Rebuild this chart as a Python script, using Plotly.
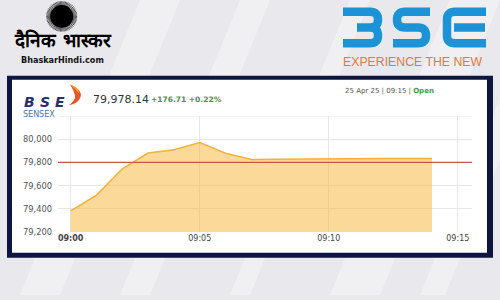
import plotly.graph_objects as go
import math

# ---------------- data ----------------
times = ['2025-04-25 09:00', '2025-04-25 09:01', '2025-04-25 09:02', '2025-04-25 09:03',
         '2025-04-25 09:04', '2025-04-25 09:05', '2025-04-25 09:06', '2025-04-25 09:07',
         '2025-04-25 09:08', '2025-04-25 09:09', '2025-04-25 09:10', '2025-04-25 09:11',
         '2025-04-25 09:12', '2025-04-25 09:13', '2025-04-25 09:14']
sensex = [79383, 79519, 79745, 79881, 79910, 79972, 79879, 79825,
          79827, 79830, 79833, 79834, 79834, 79834, 79834]
prev_close = 79801.43
y_tickvals = [79200, 79400, 79600, 79800, 80000]
y_ticktext = ['79,200', '79,400', '79,600', '79,800', '80,000']
x_tickvals = ['2025-04-25 09:00', '2025-04-25 09:05', '2025-04-25 09:10', '2025-04-25 09:15']
x_ticktext = ['<b>09:00</b>', '09:05', '09:10', '09:15']
last_value = '79,978.14'
change_text = '+176.71 +0.22%'
date_text = '25 Apr 25 | 09:15 | '
status_text = 'Open'

W, H = 500, 300
def X(px):
    return px / W
def Y(py):
    return 1 - py / H

def path(cmds):
    out = []
    for c in cmds:
        if isinstance(c, str):
            out.append(c)
        else:
            out.append('%.5f,%.5f' % (X(c[0]), Y(c[1])))
    return ' '.join(out)

fig = go.Figure()
fig.add_trace(go.Scatter(
    x=times, y=sensex, mode='lines', fill='tozeroy',
    line=dict(color='#f0b23e', width=1.5),
    fillcolor='rgba(248,180,50,0.5)', hoverinfo='skip', showlegend=False))

shapes = []
# background streaks
for (a, b) in [(20, 60), (120, 150), (230, 250), (330, 380), (420, 445)]:
    shapes.append(dict(type='path', xref='paper', yref='paper', layer='below',
                       path=path(['M', (a, 300), 'L', (b, 300), 'L', (b + 120, 0), 'L', (a + 120, 0), 'Z']),
                       fillcolor='rgba(255,255,255,0.35)', line=dict(width=0)))
# navy frame and white panel
shapes.append(dict(type='rect', xref='paper', yref='paper', layer='below',
                   x0=X(7), x1=X(493), y0=Y(262), y1=Y(77),
                   fillcolor='#0e1640', line=dict(width=0)))
shapes.append(dict(type='rect', xref='paper', yref='paper', layer='below',
                   x0=X(12), x1=X(487), y0=Y(257), y1=Y(81),
                   fillcolor='#ffffff', line=dict(width=0)))
# top gridline (80,200)
shapes.append(dict(type='line', xref='paper', yref='y', layer='below',
                   x0=X(58), x1=X(472), y0=80200, y1=80200,
                   line=dict(color='#e6e6e6', width=1)))
# previous close line
shapes.append(dict(type='line', xref='paper', yref='y', layer='above',
                   x0=X(58), x1=X(472), y0=prev_close, y1=prev_close,
                   line=dict(color='#c8574a', width=1.2)))

# sun logo
rays = []
cx, cy = 61.7, 16.7
for i in range(72):
    ang = 2 * math.pi * i / 72
    rays += ['M', (cx + 9 * math.cos(ang), cy + 9 * math.sin(ang)),
             'L', (cx + 15.5 * math.cos(ang), cy + 15.5 * math.sin(ang))]
shapes.append(dict(type='path', xref='paper', yref='paper', path=path(rays),
                   line=dict(color='#333333', width=0.8)))
shapes.append(dict(type='circle', xref='paper', yref='paper',
                   x0=X(cx - 11.5), x1=X(cx + 11.5), y0=Y(cy + 11.5), y1=Y(cy - 11.5),
                   fillcolor='#000000', line=dict(width=0)))

# BSE big logo (stroked letters)
blue = '#1b93d6'
bse_paths = [
    ['M', (343, 12), 'L', (370, 12), 'Q', (378, 12), (378, 20), 'Q', (378, 28), (370, 28), 'L', (357, 28),
     'M', (370, 28), 'Q', (378, 28), (378, 36), 'Q', (378, 44), (370, 44), 'L', (343, 44)],
    ['M', (430, 12), 'L', (405, 12), 'Q', (397, 12), (397, 20), 'Q', (397, 28), (405, 28), 'L', (418, 28),
     'Q', (426, 28), (426, 36), 'Q', (426, 44), (418, 44), 'L', (393, 44)],
    ['M', (486, 12), 'L', (455, 12), 'Q', (447, 12), (447, 20), 'L', (447, 36), 'Q', (447, 44), (455, 44), 'L', (486, 44),
     'M', (454, 28), 'L', (485, 28)],
]
for p in bse_paths:
    shapes.append(dict(type='path', xref='paper', yref='paper', path=path(p),
                       line=dict(color=blue, width=8.5)))

# small flame icon in chart header
shapes.append(dict(type='path', xref='paper', yref='paper',
                   path=path(['M', (70, 86), 'Q', (84, 92), (80, 100), 'Q', (77, 106), (69, 107),
                              'Q', (76, 101), (75, 97), 'Q', (74, 92), (70, 86), 'Z']),
                   fillcolor='#e8552a', line=dict(width=0)))
shapes.append(dict(type='path', xref='paper', yref='paper',
                   path=path(['M', (70, 86), 'Q', (80, 90), (79, 95), 'Q', (76, 91), (70, 86), 'Z']),
                   fillcolor='#f6a21e', line=dict(width=0)))

ann = []
def txt(x, y, s, size, color, anchor='left', family='DejaVu Sans'):
    ann.append(dict(x=X(x), y=Y(y), xref='paper', yref='paper', text=s, showarrow=False,
                    xanchor=anchor, yanchor='middle', font=dict(size=size, color=color, family=family)))

txt(63, 41, '<b>दैनिक भास्कर</b>', 19, '#000000', 'center')
txt(62, 61, '<b>BhaskarHindi.com</b>', 9, '#111111', 'center', 'DejaVu Sans Condensed')
txt(413, 63, 'EXPERIENCE THE NEW', 12.3, '#e07a3c', 'center', 'Liberation Sans')
for ch, cx2 in [('B', 29.5), ('S', 45), ('E', 60)]:
    txt(cx2, 104, '<b><i>' + ch + '</i></b>', 14, '#27306b', 'center')
txt(21, 116.5, 'SENSEX', 8, '#3b78b5')
txt(91, 101, last_value, 11, '#333333')
txt(149, 101, '<b>' + change_text + '</b>', 7.5, '#3e9a3e')
txt(436, 93, date_text + '<b><span style="color:#3e9a3e">' + status_text + '</span></b>', 7, '#555555', 'right')

fig.update_layout(
    width=W, height=H, margin=dict(l=0, r=0, t=0, b=0),
    paper_bgcolor='#e9e9ed', plot_bgcolor='rgba(0,0,0,0)',
    shapes=shapes, annotations=ann, showlegend=False,
    xaxis=dict(domain=[X(58), X(472)], type='date',
               range=['2025-04-25 08:59:30.5', '2025-04-25 09:15:33'],
               tickvals=x_tickvals, ticktext=x_ticktext, showgrid=True,
               gridcolor='#e6e6e6', gridwidth=1, zeroline=False, showline=False,
               tickfont=dict(family='DejaVu Sans', size=8, color='#444444')),
    yaxis=dict(domain=[Y(236), Y(118)], range=[79200, 80200],
               tickvals=y_tickvals, ticktext=y_ticktext, showgrid=True,
               gridcolor='#e6e6e6', gridwidth=1, zeroline=False, showline=False,
               ticklabelstandoff=5,
               tickfont=dict(family='DejaVu Sans', size=8.3, color='#555555')),
)
fig.write_html('out.html')
